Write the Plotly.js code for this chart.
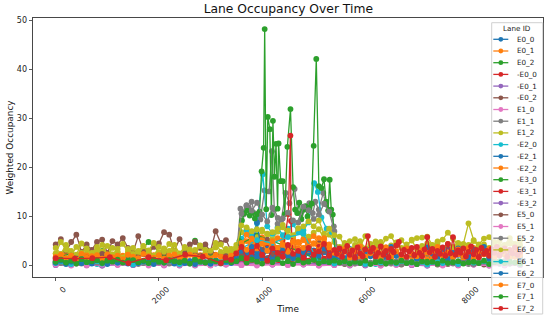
<!DOCTYPE html>
<html>
<head>
<meta charset="utf-8">
<script src="https://cdn.plot.ly/plotly-3.0.1.min.js"></script>
<style>html,body{margin:0;padding:0;background:#fff;}#chart{width:550px;height:323px;}</style>
</head>
<body>
<div id="chart"></div>
<script>
// ---------- time grids (time stamps of the samples) ----------
function grid(start, stop, step) { const a = []; for (let t = start; t <= stop; t += step) a.push(t); return a; }
const G100 = grid(0, 9000, 100);
const G300 = grid(0, 9000, 300);
const C100 = grid(3500, 5400, 100);

// ---------- lane names ----------
const laneNames = ["E0_0","E0_1","E0_2","-E0_0","-E0_1","-E0_2","E1_0","E1_1","E1_2","-E2_0","-E2_1","-E2_2",
                   "-E3_0","-E3_1","-E3_2","E5_0","E5_1","E5_2","E6_0","E6_1","E6_2","E7_0","E7_1","E7_2"];

// ---------- series values ----------
const E0_0 = [0.8,1.2,0.5,1.0,0.7,1.4,0.6,0.9,1.1,0.4,1.3,0.8,0.6,1.0,1.5,0.7,0.9,0.5,1.2,0.8,1.0,0.6,1.3,0.9,0.5,1.1,0.7,1.4,0.8,0.6,1.0,0.4,0.9,1.2,0.7,
              1.0,2.4,3.2,1.8,2.6,1.4,3.0,2.0,1.2,2.8,3.4,1.6,2.2,1.0,2.5,3.1,1.8,2.7,1.5,1.1,
              2.8,1.5,3.4,2.0,1.2,2.6,3.7,1.8,2.3,1.4,3.0,2.5,1.6,3.6,2.1,1.3,2.9,1.9,3.3,1.5,2.4,3.8,1.7,2.2,1.2,3.1,2.6,1.8,3.5,2.0,1.4,2.7,3.2,1.6,2.3,1.9];
const E0_1 = [2.4,2.0,2.6,2.2,1.8,2.5,2.3,2.1,2.7,1.9,2.4,2.2,2.6,2.0,2.3,2.5,1.7,2.4,2.8,2.1,2.5,2.2,1.9,2.6,2.3,2.0,2.5,2.7,2.1,2.4,1.8,2.2,2.6,2.3,2.0,
              2.8,4.2,5.0,3.4,4.6,5.8,3.8,4.4,3.0,5.2,4.0,3.6,4.8,5.4,3.2,4.5,5.6,3.9,4.3,2.6,
              1.6,2.8,2.2,3.5,1.4,2.6,3.1,1.9,2.4,3.7,1.5,2.9,2.1,3.3,1.8,2.5,3.0,1.3,2.7,3.4,2.0,1.7,3.2,2.3,1.6,2.8,3.6,1.9,2.4,3.0,1.5,2.6,2.2,3.1,1.8,2.4];
const E0_2 = [1.6,2.4,1.2,3.0,1.8,1.4,4.8,2.0,1.5,5.1,2.6,1.3,4.5,6.2,5.0,3.8,2.6,0.9,0.6,0.8,0.5,0.9,0.7,0.6,0.8,0.5,0.7,0.9,0.6,0.8,0.5];
const mE0_0 = [0.4,0.7,0.3,0.6,0.5,0.8,0.2,0.6,0.4,0.7,0.3,0.5,0.8,0.6,0.4,0.9,0.5,0.3,0.6,0.4,0.7,0.2,0.5,0.6,0.3,0.7,0.4,0.5,0.6,0.3,0.5];
const mE0_1 = [0.2,0.1,0.3,0.0,0.2,0.1,0.3,0.2,0.0,0.1,0.2,0.3,0.1,0.2,0.4,0.3,0.2,0.1,0.2,0.0,0.1,0.3,0.2,0.1,0.0,0.2,0.1,0.3,0.2,0.1,0.2];
const mE0_2 = [4.3,5.4,3.0,4.8,6.3,2.8,4.3,3.2,4.8,5.3,2.6,5.0,4.3,5.6,3.6,2.8,6.0,3.0,2.5,3.8,4.5,6.8,6.3,3.0,5.4,2.8,4.3,4.8,3.6,4.3,2.9,7.0,4.6,5.2,3.0,
               2.0,3.0,2.5,3.5,4.8,3.2,5.3,2.8,3.6,4.0,2.4,5.0,3.1,2.6,3.8,2.2,4.5,3.0,2.7,1.5,
               0.5,0.3,0.7,0.4,0.6,0.2,0.5,0.8,0.3,0.6,0.4,0.7,0.2,0.5,0.6,0.3,0.8,0.4,0.5,0.2,0.7,0.3,0.6,0.4,0.5,0.8,0.3,0.6,0.2,0.5,0.7,0.4,0.3,0.6,0.5,0.4];
const E1_0 = [0.1,0.2,0.0,0.1,0.3,0.1,0.2,0.0,0.1,0.2,0.1,0.4,0.1,0.0,0.2,0.1,0.3,0.0,0.1,0.2,0.1,0.0,0.2,0.1,0.1,0.3,0.0,0.2,0.1,0.0,0.1];
const E1_1_t = grid(0, 3400, 200).concat(
  [3500,3580,3640,3695,3742,3797,3850,3900,3966,4048,4136,4190,4237,4305,4373,4454,4529,4630,4698,4760,4827,4915,4983,5031,5098,5186,5234,5335,5390,5450],
  grid(5600, 9000, 200));
const E1_1 = [0.6,1.0,0.4,0.8,1.2,0.5,0.9,0.7,0.3,1.0,0.6,0.8,1.1,0.4,0.9,0.6,1.0,0.7,
              1.2,11.6,10.4,12.2,11.8,13.0,10.7,10.0,9.4,15.3,15.1,23.3,11.4,9.7,9.3,14.8,12.7,15.6,10.7,9.4,11.4,12.7,10.7,13.0,11.4,14.8,12.5,11.4,8.0,2.0,
              0.5,0.8,0.3,0.7,0.4,0.6,0.9,0.3,0.5,0.8,0.4,0.6,0.3,0.7,0.5,0.8,0.4,0.6];
const E1_2 = [3.6,2.4,4.2,3.0,2.2,4.5,3.2,2.6,3.8,2.9,4.0,2.3,3.4,4.4,2.8,3.6,2.1,3.9,3.1,4.6,2.7,3.5,3.0,4.2,2.5,3.8,3.3,2.4,4.1,3.2,2.9,3.7,4.3,2.6,3.4,
              4.2,6.8,7.5,6.2,5.8,7.0,6.5,5.4,6.9,7.8,6.0,5.6,7.2,6.4,5.9,6.7,7.4,5.5,6.3,4.8,
              3.8,4.6,3.2,4.2,5.0,3.5,4.4,3.9,4.8,3.3,4.1,4.7,3.6,4.3,5.1,3.4,4.0,4.5,3.7,4.9,3.2,4.4,3.8,4.6,3.5,4.2,5.0,3.9,4.3,3.6,4.8,4.0,3.4,4.5,3.8,4.2];
const mE2_0_t = [0,400,800,1200,1600,2000,2400,2800,3200,
                 3500,3600,3700,3800,3900,4014,4100,4200,4300,4400,4500,4600,4700,4800,4900,5010,5080,5150,5250,5350,5450,
                 5800,6200,6600,7000,7400,7800,8200,8600,9000];
const mE2_0 = [0.4,0.7,0.3,0.6,0.5,0.8,0.4,0.6,0.9,
               1.5,5.5,7.2,6.0,8.6,18.6,8.0,6.5,7.8,6.2,7.5,8.4,6.8,7.2,8.8,16.8,15.0,9.8,7.5,6.8,2.0,
               0.5,0.3,0.6,0.4,0.7,0.3,0.5,0.4,0.6];
const mE2_1 = [0.8,1.6,2.8,3.5,8.8,2.2,1.4,3.0,2.5,1.8,3.6,2.0,1.2,2.9,3.3,1.7,2.6,3.8,2.1,0.9];
const mE2_2 = [2.0,4.0,6.3,4.8,3.5,5.2,4.4,3.8,5.6,4.2,3.2,5.9,4.6,3.6,5.0,6.0,4.1,5.4,3.9,2.4];
const mE3_0_t = [3500,3560,3610,3660,3710,3760,3810,3860,3910,3950,3990,4030,4050,4080,4110,4150,4180,4210,4240,4270,
                 4300,4320,4360,4400,4440,4490,4550,4600,4640,4680,4720,4760,4800,4840,4880,4920,4960,5000,5050,5100,
                 5150,5200,5240,5280,5310,5340,5370,5420];
const mE3_0 = [1.5,5.0,9.2,10.7,11.3,10.2,10.8,9.6,10.5,11.0,19.2,24.0,48.2,11.5,30.3,27.8,10.3,29.5,18.1,24.8,
               11.6,24.9,17.2,17.2,10.5,24.2,31.9,16.0,11.4,10.7,12.8,9.5,11.4,12.1,10.0,11.8,12.6,24.4,42.1,16.2,
               15.8,17.6,13.0,11.2,17.5,11.4,10.4,1.2];
const mE3_1_t = [3500,3600,3700,3800,3900,4000,4100,4200,4300,4400,4510,4549,4560,4600,4700,4800,4900,5000,5100,5200,5300,5400];
const mE3_1 = [1.0,2.8,1.5,3.2,0.8,2.4,3.6,1.2,2.0,3.0,10.5,26.5,9.1,1.6,3.4,2.2,1.0,2.9,3.8,1.4,2.6,1.1];
const mE3_2 = [0.1,0.2,0.1,0.0,0.2,0.1,0.3,0.1,0.2,0.0,0.1,0.2,0.3,0.5,0.2,0.4,0.6,0.3,0.1,0.2,0.0,0.1,0.2,0.1,0.0,0.2,0.1,0.2,0.0,0.1,0.2];
const E5_0 = [1.2,2.0,1.6,2.4,1.4,2.2,1.8,2.6,1.5,2.1,2.8,1.9,2.0,1.5,2.2,1.8,1.2,0.4,0.6,0.3,0.5,0.4,0.7,0.3,0.5,0.6,0.4,0.3,0.5,0.6,0.4];
const E5_1 = [0.2,0.0,0.1,0.2,0.1,0.3,0.0,0.1,0.2,0.1,0.0,0.2,0.1,0.3,0.2,0.1,0.2,0.0,0.1,0.1,0.2,0.0,0.1,0.2,0.1,0.0,0.1,0.2,0.0,0.1,0.1];
const E5_2 = [0.9,0.5,1.2,0.7,1.0,0.4,0.8,1.3,0.6,0.9,0.5,1.1,0.7,1.4,0.6,0.8,1.0,0.5,1.2,0.9,0.6,1.1,0.4,0.8,1.3,0.7,0.9,0.5,1.0,0.6,1.2,0.8,0.4,1.1,0.7,
              2.2,10.6,12.3,11.2,12.8,10.4,9.0,11.8,8.5,9.6,10.8,9.2,8.8,12.0,11.3,9.5,10.4,12.6,11.0,7.0,
              0.7,0.4,0.9,0.5,0.8,0.3,0.6,1.0,0.4,0.7,0.5,0.9,0.3,0.6,0.8,0.4,0.7,0.5,0.9,0.3,0.6,0.8,0.4,0.7,0.5,1.0,0.3,0.6,0.8,0.4,0.7,0.5,0.9,0.4,0.6,0.5];
const E6_0 = [2.5,4.8,3.2,2.0,3.8,2.6,3.5,1.8,3.0,4.2,2.2,3.6,2.8,1.6,3.4,2.4,3.0,4.0,2.6,2.0,3.8,2.8,4.4,3.0,2.2,3.6,2.6,3.2,4.0,2.4,3.0,4.6,2.8,3.4,2.5,
              3.6,8.2,7.8,7.0,7.4,7.3,6.4,6.8,7.5,8.3,7.1,6.2,7.6,8.0,9.0,8.0,9.2,6.5,7.5,6.2,
              5.9,4.0,5.0,5.4,3.8,6.0,4.2,4.9,3.6,5.5,6.0,4.1,5.2,3.9,5.3,5.6,5.7,5.9,4.2,4.6,5.3,6.7,5.5,4.0,4.4,8.6,5.2,4.3,5.5,5.8,4.5,5.0,4.2,5.6,4.4,5.1];
const E6_1 = [0.5,0.3,0.7,0.4,0.6,0.2,0.5,0.8,0.3,0.6,0.4,0.7,3.5,5.2,4.6,5.8,6.5,0.6,0.4,0.5,0.3,0.7,0.4,0.6,0.2,0.5,0.3,0.6,0.4,0.5,0.3];
const E6_2 = [0.6,1.0,0.3,0.8,1.2,0.5,0.9,0.4,1.1,0.7,0.3,1.0,0.6,0.8,0.4,1.2,0.5,0.9,0.7,0.3,1.0,0.6,1.1,0.4,0.8,0.5,0.9,0.3,1.0,0.7,0.4,1.1,0.6,0.8,0.5,
              1.5,3.0,2.2,3.8,1.8,2.6,3.4,1.2,2.9,3.6,2.0,1.5,3.2,2.4,3.9,1.7,2.8,3.5,2.1,1.6,
              1.8,3.0,2.2,1.4,3.6,2.5,1.9,3.2,1.2,2.7,3.8,2.0,1.6,3.4,2.3,1.5,2.9,3.7,1.8,2.4,3.1,1.3,2.6,3.5,2.0,1.7,3.3,2.2,3.8,1.5,2.8,2.1,3.0,1.9,2.6,1.4];
const E7_0 = [1.8,2.2,1.5,2.0,1.2,2.4,1.6,1.9,2.1,1.4,2.3,1.7,2.0,1.3,2.2,1.8,1.5,2.4,1.9,1.6,2.1,1.4,2.0,2.3,1.7,1.5,2.2,1.9,1.6,2.0,1.3,2.1,1.8,1.5,2.0,
              2.5,4.6,3.2,5.5,3.8,4.4,3.0,5.0,3.6,4.2,2.8,4.8,3.4,5.2,3.9,4.5,3.1,5.6,3.7,2.6,
              2.2,3.4,1.6,2.8,3.9,1.8,2.5,3.2,1.4,3.7,2.1,2.9,1.5,3.5,2.4,1.9,3.1,2.6,1.3,3.8,2.2,2.7,1.7,3.3,2.0,3.6,1.5,2.8,2.3,3.4,1.8,2.5,3.0,1.6,2.9,2.1];
const E7_1 = [0.8,1.2,0.6,1.0,0.4,1.3,0.7,0.9,1.1,0.5,1.0,0.8,1.2,0.6,0.9,1.1,0.7,1.0,0.5,1.2,0.8,0.6,1.1,0.9,0.7,1.0,0.4,1.2,0.8,0.6,1.0,0.9,0.5,1.1,0.7,
              0.9,1.5,0.6,1.2,0.8,0.4,1.0,0.7,1.3,0.5,0.9,0.3,1.1,0.6,0.8,1.2,0.5,0.9,0.7,1.0,
              0.6,0.9,0.4,0.8,0.5,1.0,0.3,0.7,0.9,0.4,0.8,0.6,1.0,0.5,0.7,0.3,0.9,0.6,0.8,0.4,1.0,0.5,0.7,0.9,0.4,0.6,0.8,0.5,1.0,0.3,0.7,0.9,0.5,0.8,0.6,0.4];
const E7_2_t = [0,370,710,1050,1410,1800,2140,2510,2850,3200,3290].concat(grid(3400, 5400, 100), grid(5450, 9000, 50));
const E7_2 = [1.5,1.4,1.5,1.7,0.5,1.7,1.1,2.2,1.8,0.5,1.6,
              1.2,2.5,3.8,1.5,2.8,4.0,2.2,1.0,3.5,2.6,1.8,4.2,2.4,3.0,1.6,3.6,2.2,2.9,4.4,2.0,3.2,
              2.4,3.5,1.8,2.9,4.0,2.2,3.1,1.6,3.7,2.5,1.9,3.3,
              6.0,2.8,3.6,1.9,2.6,3.9,2.2,3.0,1.7,3.4,2.7,4.1,
              4.8,2.3,3.2,1.8,2.9,3.6,2.1,3.8,2.6,1.9,3.3,5.8,
              2.7,3.4,1.8,3.0,2.4,3.7,2.0,4.4,2.5,5.8,2.2,3.1,
              2.6,3.5,1.9,2.8,3.9,2.3,3.2,1.7,3.6,2.4,3.0,2.0,
              3.4,2.6,3.8,2.1,2.9,3.5,1.8,3.2,2.5,3.7,2.2,2.8];

const laneTimes  = [G100,G100,G300,G300,G300,G100,G300,E1_1_t,G100,mE2_0_t,C100,C100,
                    mE3_0_t,mE3_1_t,G300,G300,G300,G100,G100,G300,G100,G100,G100,E7_2_t];
const laneValues = [E0_0,E0_1,E0_2,mE0_0,mE0_1,mE0_2,E1_0,E1_1,E1_2,mE2_0,mE2_1,mE2_2,
                    mE3_0,mE3_1,mE3_2,E5_0,E5_1,E5_2,E6_0,E6_1,E6_2,E7_0,E7_1,E7_2];

// matplotlib tab10 cycle
const palette = ["#1f77b4","#ff7f0e","#2ca02c","#d62728","#9467bd","#8c564b","#e377c2","#7f7f7f","#bcbd22","#17becf"];

const traces = laneNames.map((n, i) => ({
  type: "scatter", mode: "lines+markers", name: n,
  x: laneTimes[i], y: laneValues[i],
  line: {color: palette[i % 10], width: 1.3},
  marker: {color: palette[i % 10], size: 5.8},
  connectgaps: true, showlegend: false, hoverinfo: "skip"
}));

// ---------- layout ----------
const W = 550, H = 323, ML = 33, MR = 7, MT = 18, MB = 46;
const PW = W - ML - MR, PH = H - MT - MB;
const fx = px => (px - ML) / PW;
const fy = py => (H - MB - py) / PH;
const FONT = "DejaVu Sans, sans-serif";

const shapes = [{
  type: "rect", xref: "paper", yref: "paper",
  x0: fx(491.7), x1: fx(542.7), y0: fy(314), y1: fy(22.7),
  fillcolor: "rgba(255,255,255,0.8)", line: {color: "#d0d0d0", width: 1}, layer: "above"
}];
const annotations = [{
  xref: "paper", yref: "paper", x: fx(517.2), y: fy(28.6), text: "Lane ID", showarrow: false,
  xanchor: "center", yanchor: "middle", font: {family: FONT, size: 7.2, color: "#222"}
}];
laneNames.forEach((n, i) => {
  const py = 39.3 + 11.7 * i, c = palette[i % 10];
  shapes.push({type: "line", xref: "paper", yref: "paper", x0: fx(493.3), x1: fx(508.3), y0: fy(py), y1: fy(py),
               line: {color: c, width: 1.3}, layer: "above"});
  shapes.push({type: "circle", xref: "paper", yref: "paper", xsizemode: "pixel", ysizemode: "pixel",
               xanchor: fx(500.8), yanchor: fy(py), x0: -2.4, x1: 2.4, y0: -2.4, y1: 2.4,
               fillcolor: c, line: {width: 0}, layer: "above"});
  annotations.push({xref: "paper", yref: "paper", x: fx(514.8), y: fy(py), text: n, showarrow: false,
               xanchor: "left", yanchor: "middle", font: {family: FONT, size: 7.2, color: "#222"}});
});

const layout = {
  width: W, height: H,
  margin: {l: ML, r: MR, t: MT, b: MB, pad: 0},
  paper_bgcolor: "#fff", plot_bgcolor: "#fff",
  font: {family: FONT, color: "#222"},
  title: {text: "Lane Occupancy Over Time", font: {family: FONT, size: 12.3, color: "#111"},
          x: fx(288.3), xanchor: "center", xref: "paper", y: 1 - 9 / H, yanchor: "middle", yref: "container"},
  xaxis: {range: [-440, 9444], tickvals: [0, 2000, 4000, 6000, 8000], ticktext: ["0","2000","4000","6000","8000"],
          tickangle: -45, ticks: "outside", ticklen: 3.5, tickwidth: 0.8, tickcolor: "#333",
          tickfont: {family: FONT, size: 8, color: "#222"}, ticklabelshift: 8,
          showline: true, mirror: true, linecolor: "#333", linewidth: 0.9,
          showgrid: false, zeroline: false,
          title: {text: "Time", font: {family: FONT, size: 8.9, color: "#111"}, standoff: 1}},
  yaxis: {range: [-2.33, 50.45], tickvals: [0, 10, 20, 30, 40, 50], ticktext: ["0","10","20","30","40","50"],
          ticks: "outside", ticklen: 3.5, tickwidth: 0.8, tickcolor: "#333",
          tickfont: {family: FONT, size: 8, color: "#222"},
          showline: true, mirror: true, linecolor: "#333", linewidth: 0.9,
          showgrid: false, zeroline: false,
          title: {text: "Weighted Occupancy", font: {family: FONT, size: 8.9, color: "#111"}, standoff: 1}},
  shapes: shapes, annotations: annotations, showlegend: false
};

Plotly.newPlot("chart", traces, layout, {staticPlot: true, displayModeBar: false});
</script>
</body>
</html>
